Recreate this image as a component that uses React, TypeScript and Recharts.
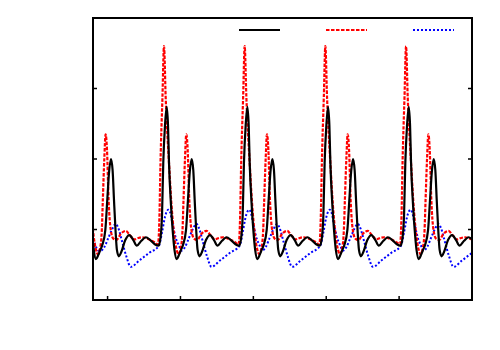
import React from 'react';
import { LineChart, Line, XAxis, YAxis } from 'recharts';

// Time axis (s) ticks and value axis ticks
const xTicks = [1, 2, 3, 4, 5];
const yTicks = [1, 2, 3];
const xDomain: [number, number] = [0.8, 6.0];
const yDomain: [number, number] = [0, 4];

// Series 1: black solid
const blackTime = [
  0.736, 0.763, 0.786, 0.811, 0.841, 0.873, 0.9, 0.928, 0.969, 0.996, 1.021, 1.047, 1.069, 1.088, 1.109, 1.128, 1.154, 1.188, 1.243, 1.298, 1.353, 1.401, 1.463, 1.525, 1.586, 1.648,
  1.699, 1.726, 1.747, 1.764, 1.788, 1.811, 1.829, 1.843, 1.87, 1.893, 1.918, 1.948, 1.98, 2.007, 2.035, 2.076, 2.103, 2.128, 2.154, 2.176, 2.195, 2.216, 2.235, 2.261, 2.295, 2.35, 2.405, 2.46, 2.508, 2.57, 2.632, 2.693, 2.755,
  2.806, 2.833, 2.854, 2.871, 2.895, 2.918, 2.936, 2.95, 2.977, 3.0, 3.025, 3.055, 3.087, 3.114, 3.142, 3.183, 3.21, 3.235, 3.261, 3.283, 3.302, 3.323, 3.342, 3.368, 3.402, 3.457, 3.512, 3.567, 3.615, 3.677, 3.739, 3.8, 3.862,
  3.913, 3.94, 3.961, 3.978, 4.002, 4.025, 4.043, 4.057, 4.084, 4.107, 4.132, 4.162, 4.194, 4.221, 4.249, 4.29, 4.317, 4.342, 4.368, 4.39, 4.409, 4.43, 4.449, 4.475, 4.509, 4.564, 4.619, 4.674, 4.722, 4.784, 4.846, 4.907, 4.969,
  5.02, 5.047, 5.068, 5.085, 5.109, 5.132, 5.15, 5.164, 5.191, 5.214, 5.239, 5.269, 5.301, 5.328, 5.356, 5.397, 5.424, 5.449, 5.475, 5.497, 5.516, 5.537, 5.556, 5.582, 5.616, 5.671, 5.726, 5.781, 5.829, 5.891, 5.953, 6.014, 6.076,
];
const blackValue = [
  1.94, 1.35, 0.99, 0.71, 0.58, 0.64, 0.71, 0.78, 0.99, 1.42, 1.82, 2.0, 1.84, 1.42, 0.99, 0.71, 0.62, 0.68, 0.85, 0.92, 0.85, 0.77, 0.84, 0.89, 0.85, 0.79,
  0.77, 0.88, 1.21, 1.94, 2.48, 2.74, 2.48, 1.94, 1.35, 0.99, 0.71, 0.58, 0.64, 0.71, 0.78, 0.99, 1.42, 1.82, 2.0, 1.84, 1.42, 0.99, 0.71, 0.62, 0.68, 0.85, 0.92, 0.85, 0.77, 0.84, 0.89, 0.85, 0.79,
  0.77, 0.88, 1.21, 1.94, 2.48, 2.74, 2.48, 1.94, 1.35, 0.99, 0.71, 0.58, 0.64, 0.71, 0.78, 0.99, 1.42, 1.82, 2.0, 1.84, 1.42, 0.99, 0.71, 0.62, 0.68, 0.85, 0.92, 0.85, 0.77, 0.84, 0.89, 0.85, 0.79,
  0.77, 0.88, 1.21, 1.94, 2.48, 2.74, 2.48, 1.94, 1.35, 0.99, 0.71, 0.58, 0.64, 0.71, 0.78, 0.99, 1.42, 1.82, 2.0, 1.84, 1.42, 0.99, 0.71, 0.62, 0.68, 0.85, 0.92, 0.85, 0.77, 0.84, 0.89, 0.85, 0.79,
  0.77, 0.88, 1.21, 1.94, 2.48, 2.74, 2.48, 1.94, 1.35, 0.99, 0.71, 0.58, 0.64, 0.71, 0.78, 0.99, 1.42, 1.82, 2.0, 1.84, 1.42, 0.99, 0.71, 0.62, 0.68, 0.85, 0.92, 0.85, 0.77, 0.84, 0.89, 0.85, 0.79,
];

// Series 2: red dashed
const redTime = [
  0.736, 0.77, 0.804, 0.839, 0.866, 0.9, 0.921, 0.935, 0.955, 0.973, 0.992, 1.014, 1.044, 1.079, 1.12, 1.182, 1.25, 1.305, 1.367, 1.422, 1.477, 1.545, 1.627,
  1.692, 1.712, 1.726, 1.753, 1.774, 1.797, 1.843, 1.877, 1.911, 1.946, 1.973, 2.007, 2.028, 2.042, 2.062, 2.08, 2.099, 2.121, 2.151, 2.186, 2.227, 2.289, 2.357, 2.412, 2.474, 2.529, 2.584, 2.652, 2.734,
  2.799, 2.819, 2.833, 2.86, 2.881, 2.904, 2.95, 2.984, 3.018, 3.053, 3.08, 3.114, 3.135, 3.149, 3.169, 3.187, 3.206, 3.228, 3.258, 3.293, 3.334, 3.396, 3.464, 3.519, 3.581, 3.636, 3.691, 3.759, 3.841,
  3.906, 3.926, 3.94, 3.967, 3.988, 4.011, 4.057, 4.091, 4.125, 4.16, 4.187, 4.221, 4.242, 4.256, 4.276, 4.294, 4.313, 4.335, 4.365, 4.4, 4.441, 4.503, 4.571, 4.626, 4.688, 4.743, 4.798, 4.866, 4.948,
  5.013, 5.033, 5.047, 5.074, 5.095, 5.118, 5.164, 5.198, 5.232, 5.267, 5.294, 5.328, 5.349, 5.363, 5.383, 5.401, 5.42, 5.442, 5.472, 5.507, 5.548, 5.61, 5.678, 5.733, 5.795, 5.85, 5.905, 5.973, 6.055,
];
const redValue = [
  1.94, 1.35, 0.95, 0.72, 0.65, 0.75, 0.99, 1.42, 2.0, 2.35, 2.13, 1.42, 0.99, 0.87, 0.85, 0.94, 0.98, 0.92, 0.86, 0.88, 0.89, 0.87, 0.83,
  0.79, 1.2, 1.94, 2.88, 3.6, 2.88, 1.94, 1.35, 0.95, 0.72, 0.65, 0.75, 0.99, 1.42, 2.0, 2.35, 2.13, 1.42, 0.99, 0.87, 0.85, 0.94, 0.98, 0.92, 0.86, 0.88, 0.89, 0.87, 0.83,
  0.79, 1.2, 1.94, 2.88, 3.6, 2.88, 1.94, 1.35, 0.95, 0.72, 0.65, 0.75, 0.99, 1.42, 2.0, 2.35, 2.13, 1.42, 0.99, 0.87, 0.85, 0.94, 0.98, 0.92, 0.86, 0.88, 0.89, 0.87, 0.83,
  0.79, 1.2, 1.94, 2.88, 3.6, 2.88, 1.94, 1.35, 0.95, 0.72, 0.65, 0.75, 0.99, 1.42, 2.0, 2.35, 2.13, 1.42, 0.99, 0.87, 0.85, 0.94, 0.98, 0.92, 0.86, 0.88, 0.89, 0.87, 0.83,
  0.79, 1.2, 1.94, 2.88, 3.6, 2.88, 1.94, 1.35, 0.95, 0.72, 0.65, 0.75, 0.99, 1.42, 2.0, 2.35, 2.13, 1.42, 0.99, 0.87, 0.85, 0.94, 0.98, 0.92, 0.86, 0.88, 0.89, 0.87, 0.83,
];

// Series 3: blue dotted
const blueTime = [
  0.79, 0.832, 0.873, 0.907, 0.955, 1.01, 1.065, 1.113, 1.147, 1.202, 1.257, 1.319, 1.435, 1.573,
  1.705, 1.747, 1.788, 1.815, 1.833, 1.856, 1.897, 1.939, 1.98, 2.014, 2.062, 2.117, 2.172, 2.22, 2.254, 2.309, 2.364, 2.426, 2.542, 2.68,
  2.812, 2.854, 2.895, 2.922, 2.94, 2.963, 3.004, 3.046, 3.087, 3.121, 3.169, 3.224, 3.279, 3.327, 3.361, 3.416, 3.471, 3.533, 3.649, 3.787,
  3.919, 3.961, 4.002, 4.029, 4.047, 4.07, 4.111, 4.153, 4.194, 4.228, 4.276, 4.331, 4.386, 4.434, 4.468, 4.523, 4.578, 4.64, 4.756, 4.894,
  5.026, 5.068, 5.109, 5.136, 5.154, 5.177, 5.218, 5.26, 5.301, 5.335, 5.383, 5.438, 5.493, 5.541, 5.575, 5.63, 5.685, 5.747, 5.863, 6.001, 6.133,
];
const blueValue = [
  0.92, 0.78, 0.7, 0.7, 0.75, 0.88, 1.01, 1.08, 1.02, 0.82, 0.62, 0.47, 0.56, 0.67,
  0.77, 0.96, 1.18, 1.26, 1.28, 1.25, 1.05, 0.87, 0.77, 0.7, 0.75, 0.88, 1.01, 1.08, 1.02, 0.82, 0.62, 0.47, 0.56, 0.67,
  0.77, 0.96, 1.18, 1.26, 1.28, 1.25, 1.05, 0.87, 0.77, 0.7, 0.75, 0.88, 1.01, 1.08, 1.02, 0.82, 0.62, 0.47, 0.56, 0.67,
  0.77, 0.96, 1.18, 1.26, 1.28, 1.25, 1.05, 0.87, 0.77, 0.7, 0.75, 0.88, 1.01, 1.08, 1.02, 0.82, 0.62, 0.47, 0.56, 0.67,
  0.77, 0.96, 1.18, 1.26, 1.28, 1.25, 1.05, 0.87, 0.77, 0.7, 0.75, 0.88, 1.01, 1.08, 1.02, 0.82, 0.62, 0.47, 0.56, 0.67, 0.77,
];

const toPoints = (ts: number[], vs: number[]) => ts.map((t, i) => ({ t, v: vs[i] }));

const blackData = toPoints(blackTime, blackValue);
const redData = toPoints(redTime, redValue);
const blueData = toPoints(blueTime, blueValue);

const frame = { stroke: '#000', strokeWidth: 2, strokeLinecap: 'square' as const };
const tickLn = { stroke: '#000', strokeWidth: 1.5 };
const NoLabel = () => <g />;

export default function App() {
  return (
    <div style={{ position: 'relative', width: 492, height: 342 }}>
      <LineChart width={492} height={342} margin={{ top: 10, right: 28, bottom: 50, left: 85 }}>
        <XAxis xAxisId="b" orientation="bottom" type="number" dataKey="t" domain={xDomain} ticks={xTicks} allowDataOverflow
          tick={NoLabel} height={1} mirror tickSize={4} axisLine={frame} tickLine={tickLn} />
        <XAxis xAxisId="top" orientation="top" type="number" dataKey="t" domain={xDomain} ticks={xTicks} allowDataOverflow
          tick={false} tickLine={false} height={1} mirror axisLine={frame} />
        <YAxis yAxisId="l" orientation="left" type="number" domain={yDomain} ticks={yTicks} allowDataOverflow
          tick={NoLabel} width={1} mirror tickSize={4} axisLine={frame} tickLine={tickLn} />
        <YAxis yAxisId="r" orientation="right" type="number" domain={yDomain} ticks={yTicks} allowDataOverflow
          tick={NoLabel} width={1} mirror tickSize={4} axisLine={frame} tickLine={tickLn} />
        <Line xAxisId="b" yAxisId="l" data={blueData} dataKey="v" type="monotone" dot={false}
          stroke="#0000ff" strokeWidth={2} strokeDasharray="2 2" isAnimationActive={false} />
        <Line xAxisId="b" yAxisId="l" data={redData} dataKey="v" type="monotone" dot={false}
          stroke="#ff0000" strokeWidth={2.2} strokeDasharray="3.5 1.5" isAnimationActive={false} />
        <Line xAxisId="b" yAxisId="l" data={blackData} dataKey="v" type="monotone" dot={false}
          stroke="#000000" strokeWidth={2.2} isAnimationActive={false} />
      </LineChart>
      <svg width={492} height={342} style={{ position: 'absolute', left: 0, top: 0, pointerEvents: 'none' }}>
        <line x1={231} y1={22} x2={272} y2={22} stroke="#000000" strokeWidth={2} />
        <line x1={318} y1={22} x2={359} y2={22} stroke="#ff0000" strokeWidth={2.2} strokeDasharray="3.5 1.5" />
        <line x1={405} y1={22} x2={446} y2={22} stroke="#0000ff" strokeWidth={2} strokeDasharray="2 2" />
      </svg>
    </div>
  );
}
